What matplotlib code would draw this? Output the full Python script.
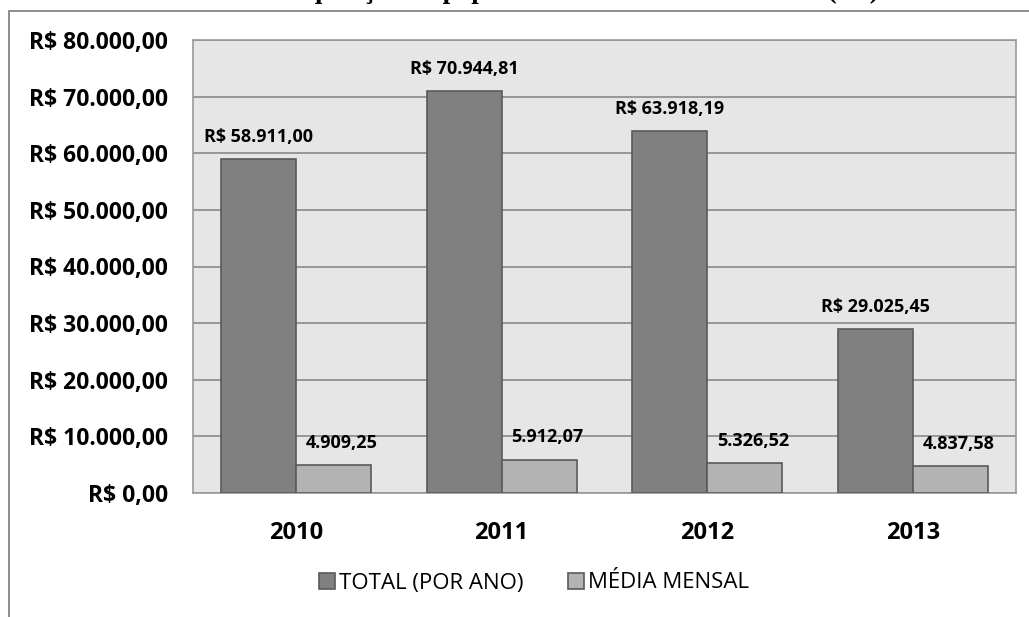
import numpy as np
import matplotlib.pyplot as plt
from matplotlib.patches import Rectangle

# data
anos = ['2010', '2011', '2012', '2013']
total = [58911.00, 70944.81, 63918.19, 29025.45]
media = [4909.25, 5912.07, 5326.52, 4837.58]
total_lbl = ['R$ 58.911,00', 'R$ 70.944,81', 'R$ 63.918,19', 'R$ 29.025,45']
media_lbl = ['4.909,25', '5.912,07', '5.326,52', '4.837,58']
y_ticks = [0, 10000, 20000, 30000, 40000, 50000, 60000, 70000, 80000]
y_lbl = ['R$ 0,00', 'R$ 10.000,00', 'R$ 20.000,00', 'R$ 30.000,00', 'R$ 40.000,00',
         'R$ 50.000,00', 'R$ 60.000,00', 'R$ 70.000,00', 'R$ 80.000,00']

plt.rcParams['font.family'] = ['Open Sans', 'DejaVu Sans']

fig = plt.figure(figsize=(10.29, 6.17), dpi=100)
W, H = 1029, 617

# outer chart frame (cut off right and bottom)
fig.patches.append(Rectangle((9 / W, -0.1), 1.2, 1 - 11 / H + 0.1,
                             transform=fig.transFigure, fill=False,
                             edgecolor='#8c8c8c', linewidth=1.4))

# caption above, mostly cut off by the top edge
fig.text(0.0, 1.0 - 4 / H,
         'GRÁFICO 6: Gasto com aquisição de papel total anual e média mensal (R$) 2010 a 2013',
         family='Liberation Serif', weight='bold', fontsize=19.5, va='bottom', ha='left')

ax = fig.add_axes([193 / W, 1 - 493 / H, (1016 - 193) / W, (493 - 40) / H])
ax.set_facecolor('#e6e6e6')

x = np.arange(len(anos))
w = 0.365
b1 = ax.bar(x - w / 2, total, w, color='#808080', edgecolor='#5a5a5a',
            linewidth=1.2, label='TOTAL (POR ANO)', zorder=3)
b2 = ax.bar(x + w / 2, media, w, color='#b3b3b3', edgecolor='#5a5a5a',
            linewidth=1.2, label='MÉDIA MENSAL', zorder=3)

for i in range(len(anos)):
    ax.text(x[i] - w / 2, total[i] + 2300, total_lbl[i], ha='center', va='bottom',
            fontsize=13, weight='bold', zorder=4)
    ax.text(x[i] + w / 2 + 0.04, media[i] + 2300, media_lbl[i], ha='center', va='bottom',
            fontsize=13, weight='bold', zorder=4)

ax.set_xlim(-0.5, 3.5)
ax.set_ylim(0, 80000)
ax.set_yticks(y_ticks)
ax.set_yticklabels(y_lbl, fontsize=16.5, weight='bold')
ax.set_xticks(x)
ax.set_xticklabels(anos, fontsize=17, weight='bold')
ax.tick_params(length=0, axis='y', pad=18)
ax.tick_params(length=0, axis='x', pad=20)
ax.yaxis.grid(True, color='#8a8a8a', linewidth=1.2, zorder=0)
ax.set_axisbelow(True)
for s in ax.spines.values():
    s.set_color('#9a9a9a')
    s.set_linewidth(1.2)

leg = fig.legend(handles=[b1, b2], loc='center', bbox_to_anchor=(534 / W, 1 - 583 / H),
                 ncol=2, frameon=False, fontsize=16, handlelength=0.7, handleheight=0.7,
                 handletextpad=0.2, columnspacing=2.0)

plt.savefig('out.png', dpi=100)
